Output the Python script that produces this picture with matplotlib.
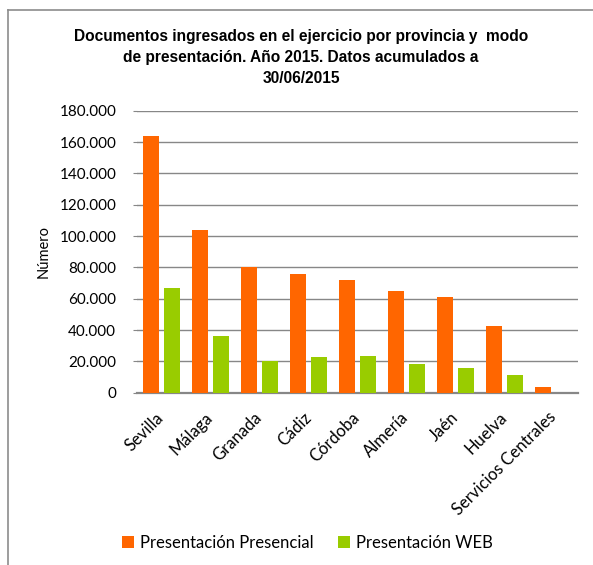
import matplotlib
matplotlib.use("Agg")
import matplotlib.pyplot as plt
import numpy as np
from matplotlib.lines import Line2D
from matplotlib.ticker import FuncFormatter

categories = ["Sevilla", "Málaga", "Granada", "Cádiz", "Córdoba", "Almería",
              "Jaén", "Huelva", "Servicios Centrales"]
presencial = [163700, 103700, 80400, 75600, 71900, 65100, 61100, 42400, 3800]
web = [67000, 36200, 20200, 22800, 23400, 18500, 15800, 11300, 0]
series_names = ["Presentación Presencial", "Presentación WEB"]
yticks = [0, 20000, 40000, 60000, 80000, 100000, 120000, 140000, 160000, 180000]
title = "Documentos ingresados en el ejercicio por provincia y  modo\nde presentación. Año 2015. Datos acumulados a\n30/06/2015"

ORANGE = "#FF6600"
GREEN = "#99CC00"
GRID = "#878787"

plt.rcParams['font.family'] = ['Lato', 'DejaVu Sans']

W, H = 593, 565
fig = plt.figure(figsize=(W / 100, H / 100), dpi=100)
ax = fig.add_axes([137 / W, 1 - 392.7 / H, (578 - 137) / W, (392.7 - 110.7) / H])

x = np.arange(len(categories))
bw = 0.33
ax.bar(x - 0.21, presencial, bw, color=ORANGE, label=series_names[0], zorder=3)
ax.bar(x + 0.21, web, bw, color=GREEN, label=series_names[1], zorder=3)

ax.set_xlim(-0.5, len(categories) - 0.5)
ax.set_ylim(0, 180000)
ax.set_yticks(yticks)
ax.yaxis.set_major_formatter(FuncFormatter(lambda v, p: f"{int(v):,}".replace(",", ".")))
ax.yaxis.grid(True, color=GRID, linewidth=1.0, zorder=0)
ax.set_axisbelow(True)
for s in ["top", "right", "left"]:
    ax.spines[s].set_visible(False)
ax.spines["bottom"].set_color(GRID)
ax.spines["bottom"].set_linewidth(1.6)
ax.tick_params(axis="y", length=3, color=GRID, labelsize=11, pad=12)
ax.tick_params(axis="x", length=0, labelsize=12, pad=16)
ax.set_xticks(x)
ax.set_xticklabels(categories, rotation=45, ha="right", va="center",
                   rotation_mode="anchor")
ax.set_ylabel("Número", fontsize=10.5)
ax.yaxis.set_label_coords((51 - 137) / 441, 0.5)

fig.text(301 / W, 1 - 57.5 / H, title, ha="center", va="center", fontsize=11.2,
         fontweight="bold", linespacing=1.5,
         family=['Liberation Sans', 'DejaVu Sans'])

fig.legend(loc="center", bbox_to_anchor=(0.5186, 1 - 543 / H), ncol=2, frameon=False,
           fontsize=12, handlelength=0.7, handleheight=0.7, handletextpad=0.35,
           columnspacing=1.5)

# outer frame (top and left edges visible)
fig.add_artist(Line2D([8 / W, 1.0], [1 - 10 / H, 1 - 10 / H], color="#8c8c8c", lw=1.2,
                      transform=fig.transFigure))
fig.add_artist(Line2D([8 / W, 8 / W], [0, 1 - 10 / H], color="#8c8c8c", lw=1.2,
                      transform=fig.transFigure))

fig.savefig("out.png", dpi=100)
